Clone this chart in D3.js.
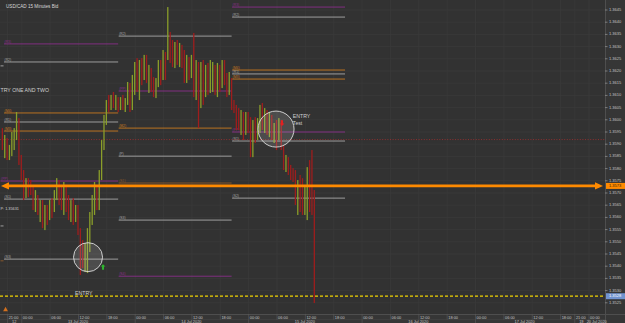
<!DOCTYPE html>
<html>
<head>
<meta charset="utf-8">
<script src="https://cdn.jsdelivr.net/npm/d3@7/dist/d3.min.js"></script>
<style>
  html, body { margin: 0; padding: 0; background: #323232; overflow: hidden; }
  svg { display: block; font-family: "Liberation Sans", Arial, sans-serif; }
</style>
</head>
<body>
<div id="chart"></div>
<script>
'use strict';

// ============================================================
//  USD/CAD 15 Minutes Bid — price bars, daily pivot levels,
//  entry notes. Bar index = 15-minute steps from 13 Jul 00:00.
// ============================================================

// ── Price bars (30-minute steps, open = previous close) ─────
const barStart = -16;
const barStep = 2;
const firstOpen = 1.35950;
const highs = [
  1.35966, 1.35938, 1.35925, 1.35897, 1.35950, 1.35966, 1.36032, 1.36007, 1.35856, 1.35794,
  1.35761, 1.35761, 1.35753, 1.35733, 1.35712, 1.35692, 1.35671, 1.35671, 1.35651, 1.35651,
  1.35671, 1.35679, 1.35712, 1.35761, 1.35753, 1.35733, 1.35745, 1.35733, 1.35692, 1.35671,
  1.35679, 1.35651, 1.35651, 1.35556, 1.35507, 1.35495, 1.35556, 1.35622, 1.35692, 1.35745,
  1.35733, 1.35794, 1.35917, 1.36020, 1.36081, 1.36102, 1.36102, 1.36114, 1.36102, 1.36093,
  1.36093, 1.36102, 1.36089, 1.36155, 1.36151, 1.36184, 1.36237, 1.36253, 1.36245, 1.36253,
  1.36266, 1.36266, 1.36225, 1.36212, 1.36175, 1.36171, 1.36245, 1.36245, 1.36286, 1.36278,
  1.36462, 1.36360, 1.36327, 1.36319, 1.36327, 1.36315, 1.36307, 1.36286, 1.36266, 1.36257,
  1.36266, 1.36356, 1.36245, 1.36237, 1.36237, 1.36245, 1.36225, 1.36233, 1.36245, 1.36237,
  1.36225, 1.36233, 1.36225, 1.36245, 1.36245, 1.36192, 1.36196, 1.36171, 1.36081, 1.36061,
  1.36048, 1.36040, 1.36032, 1.36032, 1.36032, 1.36011, 1.35999, 1.36011, 1.36007, 1.36061,
  1.36069, 1.36048, 1.36040, 1.36032, 1.36020, 1.35987, 1.35999, 1.36007, 1.35999, 1.35897,
  1.35856, 1.35847, 1.35815, 1.35802, 1.35794, 1.35753, 1.35774, 1.35761, 1.35733, 1.35806,
  1.35835, 1.35876, 1.35712
];
const lows = [
  1.35876, 1.35843, 1.35835, 1.35835, 1.35851, 1.35876, 1.35917, 1.35815, 1.35753, 1.35671,
  1.35679, 1.35683, 1.35692, 1.35630, 1.35622, 1.35610, 1.35581, 1.35556, 1.35548, 1.35569,
  1.35589, 1.35597, 1.35622, 1.35671, 1.35651, 1.35630, 1.35610, 1.35622, 1.35589, 1.35581,
  1.35569, 1.35581, 1.35528, 1.35364, 1.35392, 1.35376, 1.35372, 1.35458, 1.35569, 1.35610,
  1.35630, 1.35630, 1.35753, 1.35876, 1.35979, 1.36032, 1.36040, 1.36048, 1.36040, 1.36032,
  1.36040, 1.36040, 1.36032, 1.36061, 1.36032, 1.36040, 1.36102, 1.36114, 1.36081, 1.36142,
  1.36163, 1.36151, 1.36110, 1.36114, 1.36093, 1.36089, 1.36134, 1.36142, 1.36163, 1.36163,
  1.36245, 1.36233, 1.36216, 1.36212, 1.36225, 1.36216, 1.36212, 1.36151, 1.36151, 1.36163,
  1.36171, 1.36093, 1.36081, 1.35966, 1.36048, 1.36061, 1.36093, 1.36102, 1.36110, 1.36114,
  1.36102, 1.36093, 1.36114, 1.36130, 1.36142, 1.36093, 1.36102, 1.36040, 1.36028, 1.35958,
  1.35958, 1.35938, 1.35917, 1.35938, 1.35946, 1.35847, 1.35847, 1.35905, 1.35917, 1.35946,
  1.35958, 1.35946, 1.35938, 1.35929, 1.35917, 1.35905, 1.35876, 1.35917, 1.35876, 1.35794,
  1.35786, 1.35774, 1.35753, 1.35745, 1.35651, 1.35610, 1.35622, 1.35610, 1.35610, 1.35589,
  1.35622, 1.35610, 1.35249
];
const closes = [
  1.35897, 1.35917, 1.35856, 1.35884, 1.35938, 1.35950, 1.35999, 1.35835, 1.35774, 1.35692,
  1.35745, 1.35733, 1.35720, 1.35651, 1.35671, 1.35630, 1.35651, 1.35581, 1.35622, 1.35610,
  1.35651, 1.35630, 1.35692, 1.35733, 1.35679, 1.35671, 1.35712, 1.35651, 1.35630, 1.35638,
  1.35597, 1.35630, 1.35548, 1.35466, 1.35425, 1.35474, 1.35528, 1.35597, 1.35671, 1.35712,
  1.35651, 1.35774, 1.35897, 1.35999, 1.36061, 1.36048, 1.36081, 1.36065, 1.36089, 1.36061,
  1.36073, 1.36052, 1.36081, 1.36122, 1.36048, 1.36163, 1.36204, 1.36130, 1.36225, 1.36184,
  1.36245, 1.36163, 1.36204, 1.36142, 1.36114, 1.36155, 1.36225, 1.36171, 1.36266, 1.36245,
  1.36348, 1.36266, 1.36245, 1.36294, 1.36245, 1.36286, 1.36237, 1.36184, 1.36245, 1.36225,
  1.36245, 1.36122, 1.36204, 1.36184, 1.36204, 1.36102, 1.36204, 1.36142, 1.36163, 1.36212,
  1.36130, 1.36204, 1.36184, 1.36225, 1.36163, 1.36142, 1.36171, 1.36061, 1.36048, 1.36032,
  1.35999, 1.36020, 1.35958, 1.36007, 1.35999, 1.35876, 1.35979, 1.35938, 1.35991, 1.36040,
  1.35979, 1.36032, 1.35958, 1.36007, 1.35938, 1.35966, 1.35897, 1.35991, 1.35884, 1.35815,
  1.35835, 1.35794, 1.35774, 1.35761, 1.35671, 1.35712, 1.35651, 1.35630, 1.35692, 1.35774,
  1.35651, 1.35622, 1.35323
];

// ── Daily pivot levels ───────────────────────────────────────
const levelPrice = [
  1.36311, 1.36237, 1.36028, 1.35991, 1.35954, 1.35749, 1.35675, 1.35429,
  1.36221, 1.35565, 1.35422,
  1.36343, 1.36118, 1.35966, 1.35851, 1.35741, 1.35589, 1.35359,
  1.36462, 1.36421, 1.36204, 1.36188, 1.36167, 1.35950, 1.35913, 1.35679
];
const levelFrom = [
  -15, -15, -15, -15, -15, -18, -15, -15,
  -18, -18, -18,
  82, 82, 82, 82, 82, 82, 82,
  178, 178, 178, 178, 178, 178, 178, 178
];
const levelTo = [
  82, 82, 82, 82, 82, 82, 82, 82,
  -15, -15, -15,
  178, 178, 178, 178, 178, 178, 178,
  274, 274, 274, 274, 274, 274, 274, 274
];
const levelKind = [
  'outer', 'main', 'mid', 'main', 'mid', 'outer', 'main', 'main',
  'main', 'main', 'low',
  'main', 'outer', 'mid', 'main', 'low', 'main', 'outer',
  'outer', 'main', 'mid', 'main', 'mid', 'outer', 'main', 'main'
];
const levelName = [
  '(R3)', '(R2)', '(M4)', '(R1)', '(M3)', '(PP)', '(S1)', '(S3)',
  '', '', '',
  '(R2)', '(PP)', '(M2)', '(P)', '(S1)', '(S3)', '(S4)',
  '(R3)', '(R2)', '(M4)', '(R1)', '(M3)', '(PP)', '(S1)', '(S2)'
];

// Full-width lines: bid (dotted), target arrow, stop (dashed)
const bidPrice = 1.35919;
const targetPrice = 1.35729;
const targetText = '1.3573';
const stopPrice = 1.35277;
const stopText = '1.3528';

// ── Notes ────────────────────────────────────────────────────
const circleIdx = [56.5, 215.6];
const circlePrice = [1.35437, 1.35962];
const noteText = ['TRY ONE AND TWO', 'ENTRY', 'ENTRY', 'Test', 'P: 1.35631'];
const noteIdx = [-18, 45.5, 229.8, 229.8, -18];
const notePrice = [1.36119, 1.35286, 1.36011, 1.35983, 1.35634];
const upArrow = { idx: 69.2, price: 1.35396 };
const downArrow = { idx: 220.7, price: 1.35987 };
const startFlag = { idx: -13.3, price: 1.35224 };

// ── Axis labels ──────────────────────────────────────────────
const priceTicks = [
  1.3645, 1.3640, 1.3635, 1.3630, 1.3625, 1.3620, 1.3615, 1.3610, 1.3605,
  1.3600, 1.3595, 1.3590, 1.3585, 1.3580, 1.3575, 1.3570, 1.3565, 1.3560,
  1.3555, 1.3550, 1.3545, 1.3540, 1.3535, 1.3530, 1.3525
];
const timeTickIdx = [-12, 0, 24, 48, 72, 96, 120, 144, 168, 192, 216, 240, 264,
  288, 312, 336, 360, 384, 408, 432, 456, 468, 480];
const timeTickText = ['21:00', '00:00', '06:00', '12:00', '18:00', '00:00', '06:00',
  '12:00', '18:00', '00:00', '06:00', '12:00', '18:00', '00:00', '06:00', '12:00',
  '18:00', '00:00', '06:00', '12:00', '18:00', '21:00', '00:00'];
const dayStartIdx = [-12, 0, 96, 192, 288, 384, 468, 480];
const dayText = ['12', '13 Jul 2020', '14 Jul 2020', '15 Jul 2020', '16 Jul 2020',
  '17 Jul 2020', '19', '20 Jul 2020'];

// ── Layout / colours ─────────────────────────────────────────
const W = 625, H = 323;
const plotW = 605, plotH = 314;
const COLOURS = {
  bg: '#323232', grid: '#3a3a3a', panel: '#363636', edge: '#4e4e4e',
  text: '#c4c4c4', up: '#8a9e2a', down: '#9e1d1d',
  outer: '#8a2f8a', main: '#a9a9a9', mid: '#c8791f', low: '#8d5a2a',
  target: '#ff8a00', stop: '#f2d400', bid: '#a53030'
};

const x = d3.scaleLinear().domain([-18, 494]).range([0, plotW]);
const y = d3.scaleLinear().domain([1.3645, 1.3525]).range([10, 302.8]);

const svg = d3.select('#chart').append('svg')
  .attr('width', W).attr('height', H);

svg.append('rect').attr('width', W).attr('height', H).attr('fill', COLOURS.bg);

svg.append('clipPath').attr('id', 'plot-clip')
  .append('rect').attr('width', plotW).attr('height', plotH);

const plot = svg.append('g').attr('clip-path', 'url(#plot-clip)');

// Grid
plot.selectAll('line.vgrid').data(timeTickIdx).join('line')
  .attr('class', 'vgrid')
  .attr('x1', d => x(d) + 0.5).attr('x2', d => x(d) + 0.5)
  .attr('y1', 0).attr('y2', plotH)
  .attr('stroke', COLOURS.grid).attr('stroke-width', 0.8);
plot.selectAll('line.hgrid').data(priceTicks).join('line')
  .attr('class', 'hgrid')
  .attr('x1', 0).attr('x2', plotW)
  .attr('y1', d => y(d)).attr('y2', d => y(d))
  .attr('stroke', COLOURS.grid).attr('stroke-width', 0.8);

// Title
svg.append('text')
  .attr('x', 6).attr('y', 7.5)
  .attr('font-size', 4.6).attr('fill', '#d8d8d8')
  .text('USD/CAD  15 Minutes Bid');

// Pivot levels
const levels = levelPrice.map((p, i) => ({
  p, from: levelFrom[i], to: levelTo[i], kind: levelKind[i], name: levelName[i]
}));
plot.selectAll('line.level').data(levels).join('line')
  .attr('class', 'level')
  .attr('x1', d => Math.max(0, x(d.from)) + 0.5).attr('x2', d => x(d.to))
  .attr('y1', d => y(d.p)).attr('y2', d => y(d.p))
  .attr('stroke', d => COLOURS[d.kind]).attr('stroke-width', 0.9);
plot.selectAll('text.level-label').data(levels.filter(d => d.name)).join('text')
  .attr('class', 'level-label')
  .attr('x', d => Math.max(0, x(d.from)) + 1)
  .attr('y', d => y(d.p) - 0.8)
  .attr('font-size', 3.4)
  .attr('fill', d => COLOURS[d.kind])
  .text(d => d.name);

// Bid line (dotted red)
plot.append('line')
  .attr('x1', 0).attr('x2', plotW)
  .attr('y1', y(bidPrice)).attr('y2', y(bidPrice))
  .attr('stroke', COLOURS.bid).attr('stroke-width', 0.8)
  .attr('stroke-dasharray', '1,1.6');

// Bars
const bars = highs.map((h, i) => ({
  idx: barStart + i * barStep,
  open: i === 0 ? firstOpen : closes[i - 1],
  high: h, low: lows[i], close: closes[i]
}));
plot.selectAll('rect.bar').data(bars).join('rect')
  .attr('class', 'bar')
  .attr('x', d => x(d.idx) - 0.65)
  .attr('width', 1.3)
  .attr('y', d => y(d.high))
  .attr('height', d => Math.max(1, y(d.low) - y(d.high)))
  .attr('fill', d => d.close >= d.open ? COLOURS.up : COLOURS.down);

// Stop line (yellow dashed)
plot.append('line')
  .attr('x1', 0).attr('x2', plotW)
  .attr('y1', y(stopPrice)).attr('y2', y(stopPrice))
  .attr('stroke', COLOURS.stop).attr('stroke-width', 1.2)
  .attr('stroke-dasharray', '3,2');

// Target line with arrowheads at both ends
const ty = y(targetPrice);
plot.append('line')
  .attr('x1', 6).attr('x2', plotW - 6)
  .attr('y1', ty).attr('y2', ty)
  .attr('stroke', COLOURS.target).attr('stroke-width', 2.6);
plot.append('path')
  .attr('d', `M1,${ty} L9,${ty - 3.6} L9,${ty + 3.6} Z`)
  .attr('fill', COLOURS.target);
plot.append('path')
  .attr('d', `M${plotW - 2},${ty} L${plotW - 10},${ty - 3.6} L${plotW - 10},${ty + 3.6} Z`)
  .attr('fill', COLOURS.target);

// Circles round the entries
plot.selectAll('circle.note').data(circleIdx).join('circle')
  .attr('class', 'note')
  .attr('cx', d => x(d))
  .attr('cy', (d, i) => y(circlePrice[i]))
  .attr('r', (d, i) => i === 0 ? 14.5 : 18)
  .attr('fill', 'rgba(255,255,255,0.13)')
  .attr('stroke', '#dcdcdc').attr('stroke-width', 0.9);

// Up / down signal arrows
function arrow(pt, dir, colour) {
  const cx = x(pt.idx), cy = y(pt.price);
  const s = dir;   // +1 up, -1 down
  plot.append('path')
    .attr('d', `M${cx},${cy - 3 * s} L${cx + 2.4},${cy - 0.6 * s} L${cx + 1},${cy - 0.6 * s}
                L${cx + 1},${cy + 2.6 * s} L${cx - 1},${cy + 2.6 * s} L${cx - 1},${cy - 0.6 * s}
                L${cx - 2.4},${cy - 0.6 * s} Z`)
    .attr('fill', colour);
}
arrow(upArrow, 1, '#2fb52f');
arrow(downArrow, -1, '#e42020');

// Small start-of-range flag
const fx = x(startFlag.idx), fy = y(startFlag.price);
plot.append('path')
  .attr('d', `M${fx},${fy - 2.5} L${fx + 2.4},${fy + 2} L${fx - 2.4},${fy + 2} Z`)
  .attr('fill', '#d2701e');

// Notes
plot.selectAll('text.note').data(noteText).join('text')
  .attr('class', 'note')
  .attr('x', (d, i) => Math.max(0.5, x(noteIdx[i])))
  .attr('y', (d, i) => y(notePrice[i]))
  .attr('dominant-baseline', 'middle')
  .attr('font-size', (d, i) => i === 4 ? 3.8 : 5.2)
  .attr('fill', '#d0d0d0')
  .text(d => d);

// ── Right price axis ─────────────────────────────────────────
svg.append('rect')
  .attr('x', plotW).attr('y', 0).attr('width', W - plotW).attr('height', H)
  .attr('fill', COLOURS.panel);
svg.append('line')
  .attr('x1', plotW + 0.5).attr('x2', plotW + 0.5).attr('y1', 0).attr('y2', H)
  .attr('stroke', COLOURS.edge).attr('stroke-width', 1);

const yAxis = svg.append('g');
yAxis.selectAll('line').data(priceTicks).join('line')
  .attr('x1', plotW).attr('x2', plotW + 2.5)
  .attr('y1', d => y(d)).attr('y2', d => y(d))
  .attr('stroke', '#9a9a9a').attr('stroke-width', 0.7);
yAxis.selectAll('text').data(priceTicks).join('text')
  .attr('x', plotW + 4).attr('y', d => y(d))
  .attr('dominant-baseline', 'middle')
  .attr('font-size', 4).attr('fill', COLOURS.text)
  .text(d => d.toFixed(4));

function priceBox(price, text, fill, colour) {
  const by = y(price);
  svg.append('rect')
    .attr('x', plotW + 1).attr('y', by - 3).attr('width', W - plotW - 1).attr('height', 6)
    .attr('fill', fill);
  svg.append('text')
    .attr('x', plotW + 4).attr('y', by)
    .attr('dominant-baseline', 'middle')
    .attr('font-size', 4).attr('fill', colour)
    .text(text);
}
priceBox(targetPrice, targetText, COLOURS.target, '#3a2000');
priceBox(stopPrice, stopText, '#7193cf', '#ffffff');

// ── Bottom time axis ─────────────────────────────────────────
svg.append('rect')
  .attr('x', 0).attr('y', plotH).attr('width', plotW).attr('height', H - plotH)
  .attr('fill', COLOURS.panel);
svg.append('line')
  .attr('x1', 0).attr('x2', W).attr('y1', plotH + 0.5).attr('y2', plotH + 0.5)
  .attr('stroke', COLOURS.edge).attr('stroke-width', 1);
svg.append('line')
  .attr('x1', 0).attr('x2', plotW).attr('y1', 319.6).attr('y2', 319.6)
  .attr('stroke', '#444').attr('stroke-width', 0.6);

const xAxis = svg.append('g');
xAxis.selectAll('line.tt').data(timeTickIdx).join('line')
  .attr('class', 'tt')
  .attr('x1', d => x(d) + 0.5).attr('x2', d => x(d) + 0.5)
  .attr('y1', plotH).attr('y2', 319.6)
  .attr('stroke', '#5a5a5a').attr('stroke-width', 0.6);
xAxis.selectAll('text.tt').data(timeTickIdx).join('text')
  .attr('class', 'tt')
  .attr('x', d => x(d) + 1.6).attr('y', 318.6)
  .attr('font-size', 3.9).attr('fill', COLOURS.text)
  .text((d, i) => timeTickText[i]);

const days = dayStartIdx.map((s, i) => ({
  start: s, end: i + 1 < dayStartIdx.length ? dayStartIdx[i + 1] : 494, text: dayText[i]
}));
xAxis.selectAll('line.day').data(days).join('line')
  .attr('class', 'day')
  .attr('x1', d => x(d.start) + 0.5).attr('x2', d => x(d.start) + 0.5)
  .attr('y1', 319.6).attr('y2', H)
  .attr('stroke', '#5a5a5a').attr('stroke-width', 0.6);
xAxis.selectAll('text.day').data(days).join('text')
  .attr('class', 'day')
  .attr('x', d => (x(d.start) + x(d.end)) / 2).attr('y', 323)
  .attr('text-anchor', 'middle')
  .attr('font-size', 3.9).attr('fill', COLOURS.text)
  .text(d => d.text);
</script>
</body>
</html>
